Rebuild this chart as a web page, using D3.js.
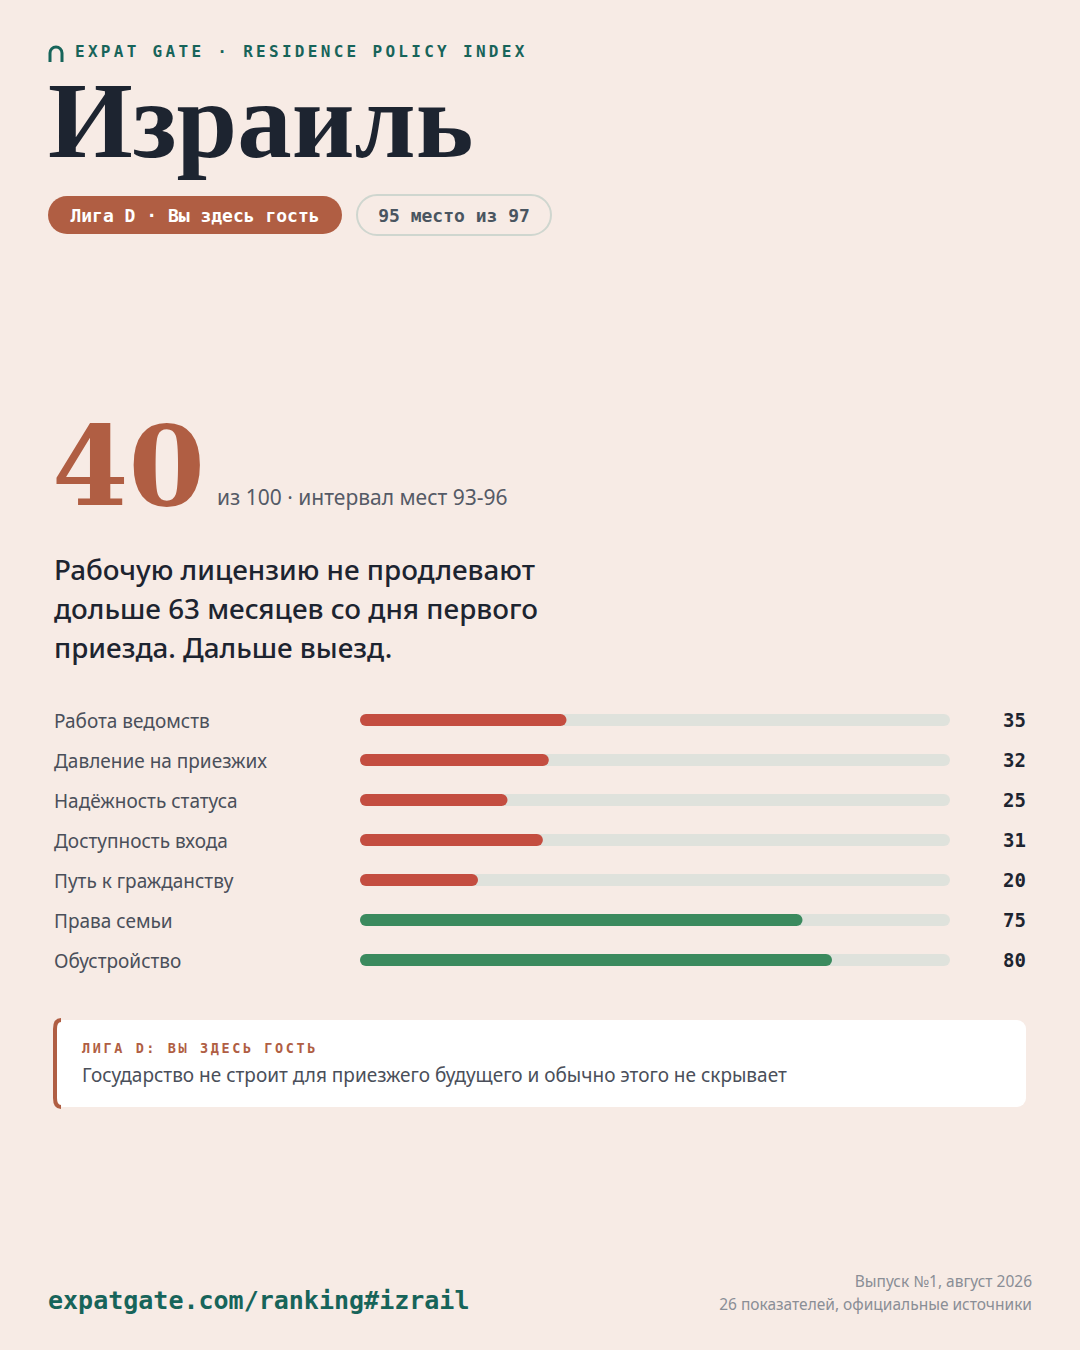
<!DOCTYPE html>
<html><head><meta charset="utf-8">
<script src="https://cdn.jsdelivr.net/npm/d3@7"></script>
<style>body{margin:0;background:#f7ebe5}</style>
</head><body>
<script>
const categories = ["Работа ведомств","Давление на приезжих","Надёжность статуса","Доступность входа","Путь к гражданству","Права семьи","Обустройство"];
const scores = [35,32,25,31,20,75,80];
const goodThreshold = 50;

const W = 1080, H = 1350;
const svg = d3.select("body").append("svg").attr("width", W).attr("height", H);
svg.append("rect").attr("width", W).attr("height", H).attr("fill", "#f7ebe5");

const mono = "'DejaVu Sans Mono', 'Liberation Mono', monospace";
const sans = "'Noto Sans', 'Open Sans', sans-serif";
const serif = "'Liberation Serif', 'DejaVu Serif', serif";
const green = "#17645a";

// header
svg.append("path").attr("d", "M50,62 V53 A6,6 0 0 1 62,53 V62")
  .attr("fill", "none").attr("stroke", green).attr("stroke-width", 3);
svg.append("text").attr("x", 75).attr("y", 57).attr("font-family", mono).attr("font-weight", "bold")
  .attr("font-size", 16).attr("letter-spacing", 3.3).attr("fill", green)
  .text("EXPAT GATE · RESIDENCE POLICY INDEX");
svg.append("text").attr("x", 48).attr("y", 157).attr("font-family", serif).attr("font-weight", "bold")
  .attr("font-size", 109).attr("fill", "#1d2430").text("Израиль");

// pills
svg.append("rect").attr("x", 48).attr("y", 196).attr("width", 294).attr("height", 38).attr("rx", 19).attr("fill", "#b05e43");
svg.append("text").attr("x", 195).attr("y", 222).attr("text-anchor", "middle").attr("font-family", mono)
  .attr("font-weight", "bold").attr("font-size", 18).attr("fill", "#fff").text("Лига D · Вы здесь гость");
svg.append("rect").attr("x", 357).attr("y", 195).attr("width", 194).attr("height", 40).attr("rx", 20)
  .attr("fill", "none").attr("stroke", "#cfd6cf").attr("stroke-width", 2);
svg.append("text").attr("x", 454).attr("y", 222).attr("text-anchor", "middle").attr("font-family", mono)
  .attr("font-weight", "bold").attr("font-size", 18).attr("fill", "#4a5560").text("95 место из 97");

// big score
svg.append("text").attr("x", 52).attr("y", 505).attr("font-family", "'DejaVu Serif', serif").attr("font-weight", "bold")
  .attr("font-size", 110).attr("fill", "#b05e43").text("40");
svg.append("text").attr("x", 217).attr("y", 505).attr("font-family", sans).attr("font-size", 21)
  .attr("fill", "#555a66").text("из 100 · интервал мест 93-96");

// summary
["Рабочую лицензию не продлевают","дольше 63 месяцев со дня первого","приезда. Дальше выезд."].forEach((t, i) => {
  svg.append("text").attr("x", 54).attr("y", 580 + i * 39).attr("font-family", sans).attr("font-weight", 500)
    .attr("font-size", 27.8).attr("fill", "#1d2430").text(t);
});

// bars
const x = d3.scaleLinear().domain([0, 100]).range([360, 950]);
const y = d3.scaleBand().domain(categories).range([700, 980]).paddingInner(0);
const rows = svg.append("g").selectAll("g").data(categories).join("g")
  .attr("transform", d => `translate(0,${y(d) + y.bandwidth() / 2})`);
rows.append("text").attr("x", 54).attr("y", 8).attr("font-family", sans).attr("font-size", 19)
  .attr("fill", "#4a4f5a").text(d => d);
rows.append("rect").attr("x", x(0)).attr("y", -6).attr("width", x(100) - x(0)).attr("height", 12)
  .attr("rx", 6).attr("fill", "#dfe2dc");
rows.append("rect").attr("x", x(0)).attr("y", -6).attr("width", (d, i) => x(scores[i]) - x(0)).attr("height", 12)
  .attr("rx", 6).attr("fill", (d, i) => scores[i] >= goodThreshold ? "#3b8a5e" : "#c44d40");
rows.append("text").attr("x", 1026).attr("y", 7).attr("text-anchor", "end").attr("font-family", mono)
  .attr("font-weight", "bold").attr("font-size", 19).attr("fill", "#1d2430").text((d, i) => scores[i]);

// note box
svg.append("rect").attr("x", 54).attr("y", 1020).attr("width", 972).attr("height", 87).attr("rx", 9).attr("fill", "#fff");
svg.append("path").attr("d", "M61,1020 Q55,1020 55,1029 V1098 Q55,1107 61,1107").attr("fill", "none")
  .attr("stroke", "#b05e43").attr("stroke-width", 4);
svg.append("text").attr("x", 82).attr("y", 1053).attr("font-family", mono).attr("font-weight", "bold")
  .attr("font-size", 13.5).attr("letter-spacing", 2.6).attr("fill", "#b05e43").text("ЛИГА D: ВЫ ЗДЕСЬ ГОСТЬ");
svg.append("text").attr("x", 82).attr("y", 1082).attr("font-family", sans).attr("font-size", 19)
  .attr("fill", "#4a4f5a").text("Государство не строит для приезжего будущего и обычно этого не скрывает");

// footer
svg.append("text").attr("x", 48).attr("y", 1309).attr("font-family", mono).attr("font-weight", "bold")
  .attr("font-size", 25).attr("fill", green).text("expatgate.com/ranking#izrail");
svg.append("text").attr("x", 1032).attr("y", 1287).attr("text-anchor", "end").attr("font-family", sans)
  .attr("font-size", 15.5).attr("fill", "#8a8e96").text("Выпуск №1, август 2026");
svg.append("text").attr("x", 1032).attr("y", 1310).attr("text-anchor", "end").attr("font-family", sans)
  .attr("font-size", 15.5).attr("fill", "#8a8e96").text("26 показателей, официальные источники");
</script>
</body></html>
